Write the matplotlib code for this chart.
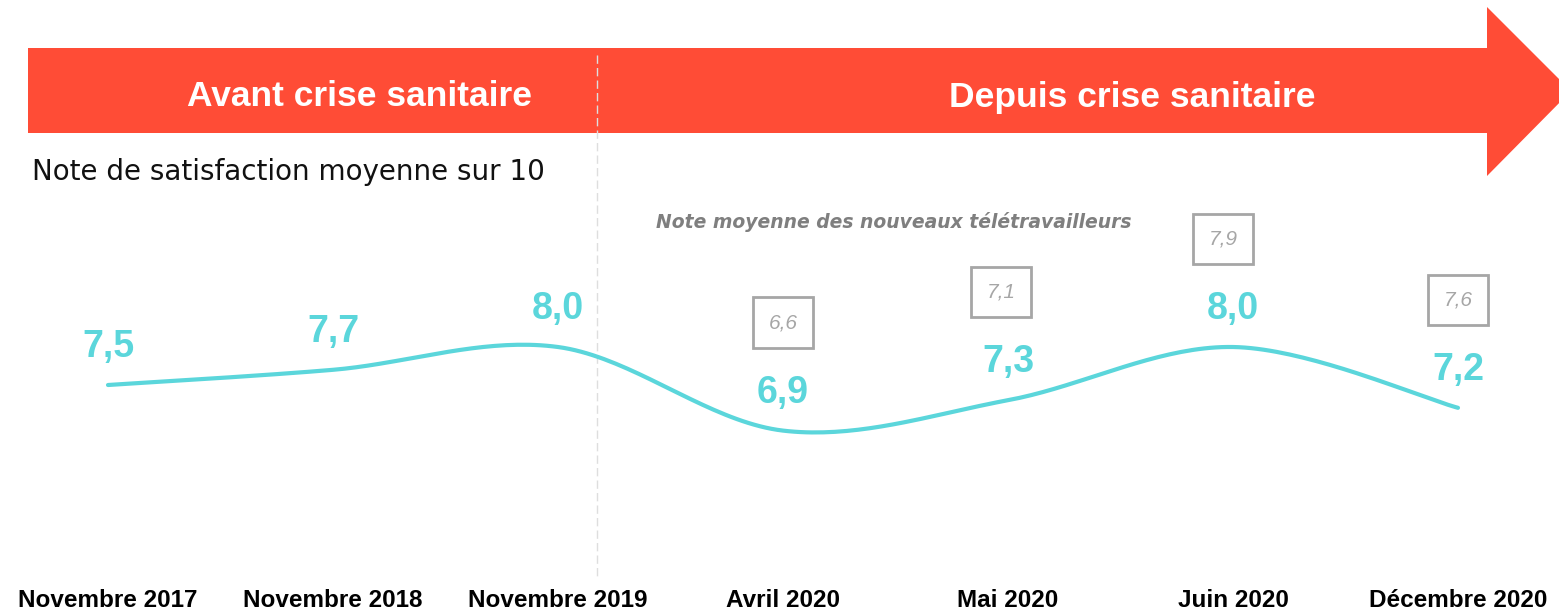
import numpy as np
import matplotlib.pyplot as plt
from matplotlib.patches import Polygon

plt.rcParams['font.family'] = ['Liberation Sans', 'DejaVu Sans']

# data
periods = ['Novembre 2017', 'Novembre 2018', 'Novembre 2019', 'Avril 2020',
           'Mai 2020', 'Juin 2020', 'Décembre 2020']
notes = [7.5, 7.7, 8.0, 6.9, 7.3, 8.0, 7.2]
# note of new teleworkers (from Avril 2020 on)
new_idx = [3, 4, 5, 6]
new_notes = [6.6, 7.1, 7.9, 7.6]

red = '#FF4C36'
cyan = '#5BD6DB'
grey = '#A6A6A6'


def smooth(xs, ys, n=40):
    # excel-like smoothed line (catmull-rom)
    P = np.column_stack([xs, ys]).astype(float)
    P = np.vstack([P[0], P, P[-1]])
    out = []
    t = np.linspace(0, 1, n)[:, None]
    for i in range(1, len(P) - 2):
        p0, p1, p2, p3 = P[i-1], P[i], P[i+1], P[i+2]
        seg = 0.5 * (2*p1 + (-p0 + p2)*t + (2*p0 - 5*p1 + 4*p2 - p3)*t**2
                     + (-p0 + 3*p1 - 3*p2 + p3)*t**3)
        out.append(seg if i == 1 else seg[1:])
    out = np.vstack(out)
    return out[:, 0], out[:, 1]


fig = plt.figure(figsize=(15.59, 6.11), dpi=100)
W, H = 1559, 611

# background layer in pixel coords (banner, separators, titles)
bg = fig.add_axes([0, 0, 1, 1])
bg.set_xlim(0, W)
bg.set_ylim(H, 0)
bg.axis('off')

banner = Polygon([(28, 48), (1487, 48), (1487, 7), (1571, 91), (1487, 176),
                  (1487, 133), (28, 133)], closed=True, fc=red, ec='none')
bg.add_patch(banner)
bg.plot([597, 597], [55, 580], color='#dedede', lw=1, ls=(0, (6, 3)))

bg.text(360, 97, 'Avant crise sanitaire', color='white', fontsize=25.5,
        fontweight='bold', ha='center', va='center')
bg.text(1132, 97, 'Depuis crise sanitaire', color='white', fontsize=25.5,
        fontweight='bold', ha='center', va='center')
bg.text(32, 172, 'Note de satisfaction moyenne sur 10', fontsize=20,
        family='DejaVu Sans', color='#111111', ha='left', va='center')
bg.text(894, 222, 'Note moyenne des nouveaux télétravailleurs', fontsize=13.5,
        family='DejaVu Sans', style='italic', fontweight='bold', color='#7F7F7F',
        ha='center', va='center')

# data layer
ax = fig.add_axes([0, 36/611, 1, 575/611])
ax.patch.set_alpha(0)
ax.set_xlim(-0.48, 6.449)
ax.set_ylim(5.0, 12.566)
for s in ax.spines.values():
    s.set_visible(False)
ax.set_yticks([])

x = np.arange(len(notes))
sx, sy = smooth(x, notes)
ax.plot(sx, sy, color=cyan, lw=3, solid_capstyle='round')

for i, v in enumerate(notes):
    ax.annotate('{:.1f}'.format(v).replace('.', ','), (i, v), xytext=(0, 38),
                textcoords='offset pixels', ha='center', va='center',
                fontsize=27, fontweight='bold', color=cyan)

box_dx = [0, -7, -10, 0]
for i, v, dx in zip(new_idx, new_notes, box_dx):
    ax.annotate('{:.1f}'.format(v).replace('.', ','), (i, notes[i]), xytext=(dx, 108),
                textcoords='offset pixels', ha='center', va='center',
                fontsize=15, style='italic', color=grey,
                bbox=dict(boxstyle='square,pad=0.75', fc='white', ec=grey, lw=2))

ax.set_xticks(x)
ax.set_xticklabels(periods, fontsize=17.5, fontweight='bold')
ax.tick_params(axis='x', length=0, pad=10)

plt.savefig('out.png')
